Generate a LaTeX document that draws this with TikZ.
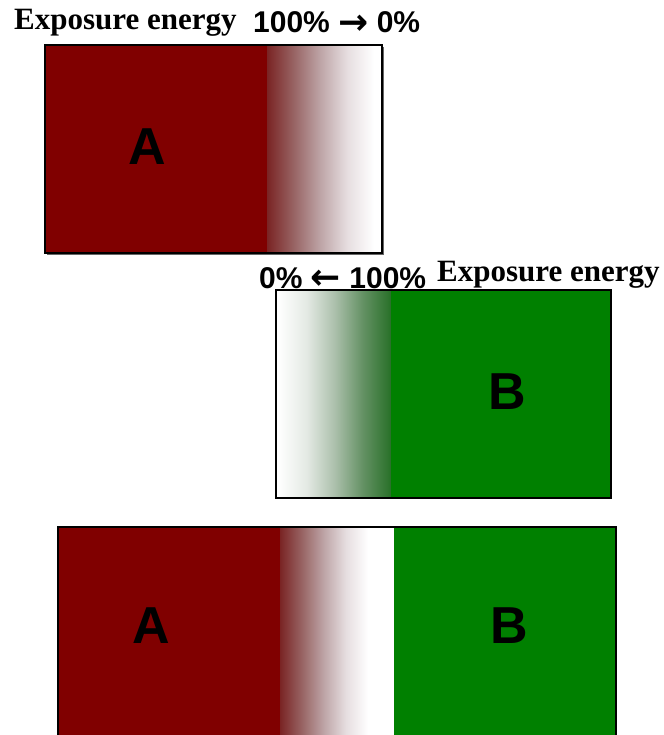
\documentclass[tikz,border=0pt]{standalone}
\usepackage{fontspec}
\setmainfont{Liberation Serif}
\newfontfamily\arialfont{Liberation Sans}
\newfontfamily\arrowfont{DejaVu Sans}
\newcommand{\bigarr}[1]{{\arrowfont\bfseries\fontsize{36}{36}\selectfont\raisebox{-1.5pt}{#1}}}
\definecolor{dred}{RGB}{128,0,0}
\definecolor{dgreen}{RGB}{0,128,0}
\definecolor{rA}{RGB}{122,36,36}
\definecolor{rB}{RGB}{152,100,100}
\definecolor{rC}{RGB}{190,165,167}
\definecolor{rD}{RGB}{230,222,224}
\definecolor{gA}{RGB}{40,112,40}
\definecolor{gB}{RGB}{100,145,100}
\definecolor{gC}{RGB}{172,192,172}
\definecolor{gD}{RGB}{228,234,228}
\pgfdeclarehorizontalshading{redfade}{100bp}{color(0bp)=(rA); color(25bp)=(rA); color(37.5bp)=(rB); color(50bp)=(rC); color(62.5bp)=(rD); color(75bp)=(white); color(100bp)=(white)}
\pgfdeclarehorizontalshading{greenfade}{100bp}{color(0bp)=(white); color(25bp)=(white); color(37.5bp)=(gD); color(50bp)=(gC); color(62.5bp)=(gB); color(75bp)=(gA); color(100bp)=(gA)}
\tikzset{
  serlabel/.style={inner sep=0pt, anchor=base west, font=\bfseries\fontsize{31}{31}\selectfont},
  pctlabel/.style={inner sep=0pt, anchor=base west, font=\arialfont\bfseries\fontsize{30}{30}\selectfont},
  bigletter/.style={inner sep=0pt, anchor=center, font=\arialfont\bfseries\fontsize{52}{52}\selectfont},
  boxborder/.style={draw=black, line width=2pt},
}
\begin{document}
\begin{tikzpicture}[x=1pt,y=-1pt]
\useasboundingbox (0,0) rectangle (663,735);
% ---------- Box A ----------
\fill[dred] (45,45) rectangle (267,253);
\shade[shading=redfade] (267,45) rectangle (374,253);
\fill[white] (374,45) rectangle (382,253);
\draw[black!60, line width=1pt] (383.5,47) -- (383.5,254.5) -- (47,254.5);
\draw[boxborder] (45,45) rectangle (382,253);
\node[bigletter] (A1) at (147,147) {A};
\node[serlabel] (E1) at (14,30) {Exposure energy};
\node[pctlabel] (P1) at (253,33) {100\% \bigarr{→} 0\%};
% ---------- Box B ----------
\shade[shading=greenfade] (278,290) rectangle (391,498);
\fill[dgreen] (391,290) rectangle (611,498);
\draw[boxborder, line width=2.5pt] (276,290) rectangle (611,498);
\node[bigletter] (B1) at (507,392) {B};
\node[pctlabel] (P2) at (259,288) {0\% \bigarr{←} 100\%};
\node[serlabel] (E2) at (437,281) {Exposure energy};
% ---------- Combined box ----------
\fill[dred] (58,527) rectangle (280,735);
\shade[shading=redfade] (280,527) rectangle (368,735);
\fill[white] (368,527) rectangle (394,735);
\fill[dgreen] (394,527) rectangle (616,735);
\draw[boxborder] (58,736) -- (58,527) -- (616,527) -- (616,736);
\node[bigletter] (A2) at (151,626) {A};
\node[bigletter] (B2) at (509,626) {B};
\end{tikzpicture}
\end{document}
